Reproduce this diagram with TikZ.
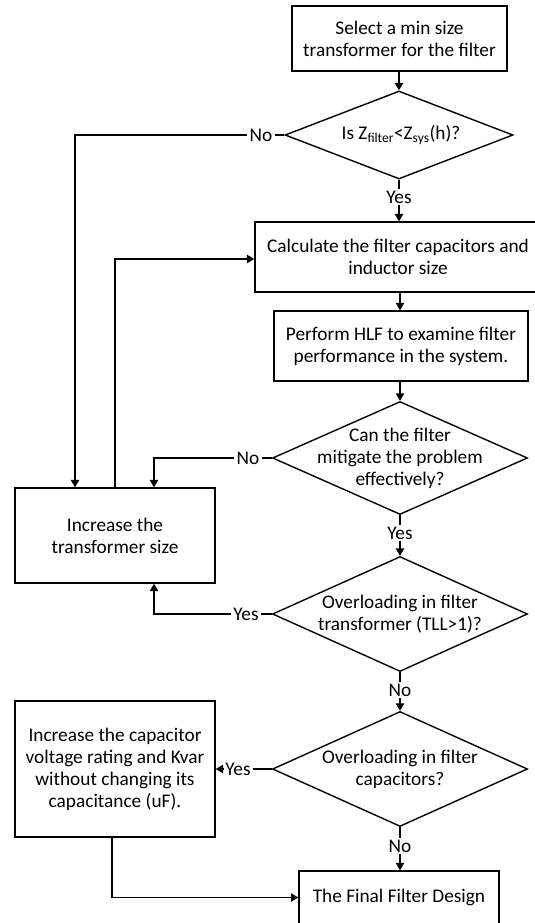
\documentclass[tikz,border=0pt]{standalone}
\usepackage{fontspec}
\setmainfont{Carlito}
\usetikzlibrary{shapes.geometric,arrows.meta}
\newcommand{\diagfont}{\fontsize{19.3}{22}\selectfont}
\begin{document}
\begin{tikzpicture}[x=1pt,y=-1pt, line width=1.4pt,
  box/.style={draw, rectangle, inner sep=0pt, align=center, font=\diagfont},
  dia/.style={draw, diamond, inner sep=0pt},
  txt/.style={align=center, inner sep=0pt, font=\diagfont},
  lab/.style={inner sep=1.5pt, font=\diagfont},
  arr/.style={-{Triangle[width=8.5pt,length=7.5pt]}}]
\useasboundingbox (0,0) rectangle (535,923);
% boxes
\node[box, minimum width=215pt, minimum height=65pt] (b1) at (399.5,38.5) {Select a min size\\transformer for the filter};
\node[box, minimum width=281pt, minimum height=70pt] (b2) at (395.5,257) {};
\node[txt] (t2) at (398,257) {Calculate the filter capacitors and\\inductor size};
\node[box, minimum width=254pt, minimum height=70pt] (b3) at (401,346) {Perform HLF to examine filter\\performance in the system.};
\node[box, minimum width=200pt, minimum height=95pt] (b4) at (115,535.5) {Increase the\\transformer size};
\node[box, minimum width=200pt, minimum height=136pt] (b5) at (115,769) {Increase the capacitor\\voltage rating and Kvar\\without changing its\\capacitance (uF).};
\node[box, minimum width=200pt, minimum height=53pt] (b6) at (399,897.5) {};
\node[txt] (t6) at (399,897) {The Final Filter Design};
% diamonds
\node[dia, minimum width=228pt, minimum height=88pt] (d1) at (399,135) {};
\node[txt] (t1) at (401,135) {Is Z\textsubscript{filter}<Z\textsubscript{sys}(h)?};
\node[dia, minimum width=255pt, minimum height=113pt] (d2) at (400,458) {};
\node[txt] (td2) at (400,458) {Can the filter\\mitigate the problem\\effectively?};
\node[dia, minimum width=255pt, minimum height=115pt] (d3) at (400,614) {};
\node[txt] (td3) at (400,614) {Overloading in filter\\transformer (TLL>1)?};
\node[dia, minimum width=255pt, minimum height=115pt] (d4) at (400,769) {};
\node[txt] (td4) at (400,769) {Overloading in filter\\capacitors?};
% labels
\node[lab] (no1) at (261,135) {No};
\node[lab] (yes1) at (399,197) {Yes};
\node[lab] (no2) at (248,458) {No};
\node[lab] (yes2) at (400,533) {Yes};
\node[lab] (yes3) at (246,614) {Yes};
\node[lab] (no3) at (400,690) {No};
\node[lab] (yes4) at (238,769) {Yes};
\node[lab] (no4) at (400,846) {No};
% connectors
\draw[arr] (d1.north |- b1.south) -- (d1.north);
\draw (d1.west) -- (no1.east);
\draw[arr] (no1.west) -| ([xshift=-40pt]b4.north);
\draw (d1.south) -- (yes1.north);
\draw[arr] (yes1.south) -- (yes1 |- b2.north);
\draw[arr] (d2.north |- b2.south) -- (d2.north |- b3.north);
\draw[arr] (d2.north |- b3.south) -- (d2.north);
\draw (d2.west) -- (no2.east);
\draw[arr] (no2.west) -| ([xshift=39pt]b4.north);
\draw[arr] (b4.north) |- ([yshift=-2pt]b2.west);
\draw (d2.south) -- (yes2.north);
\draw[arr] (yes2.south) -- (d3.north);
\draw (d3.west) -- (yes3.east);
\draw[arr] (yes3.west) -| ([xshift=39pt]b4.south);
\draw (d3.south) -- (no3.north);
\draw[arr] (no3.south) -- (d4.north);
\draw (d4.west) -- (yes4.east);
\draw[arr] (yes4.west) -- (b5.east |- yes4.west);
\draw (d4.south) -- (no4.north);
\draw[arr] (no4.south) -- (no4 |- b6.north);
\draw[arr] ([xshift=-3pt]b5.south) |- (b6.west);
\end{tikzpicture}
\end{document}
